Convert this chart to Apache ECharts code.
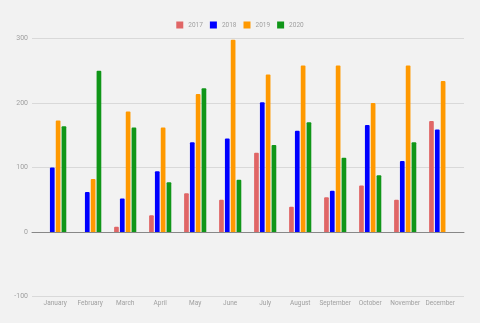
<!DOCTYPE html>
<html>
<head>
<meta charset="utf-8">
<script src="https://cdn.jsdelivr.net/npm/echarts@6/dist/echarts.min.js"></script>
<style>html,body{margin:0;padding:0;background:#f2f2f2;}#c{width:480px;height:323px;}</style>
</head>
<body>
<div id="c"></div>
<script>
const months = ['January','February','March','April','May','June','July','August','September','October','November','December'];
const years = ['2017','2018','2019','2020'];
const v2017 = [null, null, 8, 26, 60, 50, 123, 39, 54, 72, 50, 172];
const v2018 = [100, 62, 52, 94, 139, 145, 201, 157, 64, 166, 110, 159];
const v2019 = [173, 82, 187, 162, 214, 298, 244, 258, 258, 200, 258, 234];
const v2020 = [164, 250, 162, 77, 223, 81, 135, 170, 115, 88, 139, null];
const yTicks = [-100, 0, 100, 200, 300];
const colors = ['#e06666', '#0000ff', '#ff9900', '#109618'];
const seriesValues = [v2017, v2018, v2019, v2020];

const chart = echarts.init(document.getElementById('c'), null, {renderer: 'canvas'});
const font = 'Roboto, sans-serif';
chart.setOption({
  backgroundColor: '#f2f2f2',
  animation: false,
  textStyle: {fontFamily: font},
  legend: {
    top: 16.5, left: 'center',
    itemWidth: 7, itemHeight: 7, itemGap: 7,
    icon: 'rect',
    textStyle: {color: '#a0a0a0', fontSize: 6.5, fontFamily: font},
    data: years
  },
  grid: [
    {left: 32, right: 16, top: 38.5, bottom: 26.5},
    {left: 37.7, right: 22.3, top: 38.5, bottom: 26.5}
  ],
  xAxis: [
    {gridIndex: 0, type: 'value', min: 0, max: 1,
     axisLine: {show: true, onZero: true, lineStyle: {color: '#888', width: 1}},
     axisTick: {show: false}, axisLabel: {show: false}, splitLine: {show: false}},
    {gridIndex: 1, type: 'category', data: months,
     axisLine: {show: false}, axisTick: {show: false},
     axisLabel: {color: '#a0a0a0', fontSize: 6.5, margin: 3.5, fontFamily: font, interval: 0}}
  ],
  yAxis: [
    {gridIndex: 0, type: 'value', min: yTicks[0], max: yTicks[yTicks.length-1], interval: 100,
     axisLine: {show: false}, axisTick: {show: false},
     axisLabel: {color: '#a0a0a0', fontSize: 7, margin: 4, fontFamily: font},
     splitLine: {lineStyle: {color: '#d9d9d9', width: 1}}},
    {gridIndex: 1, type: 'value', min: yTicks[0], max: yTicks[yTicks.length-1], interval: 100,
     show: false, splitLine: {show: false}}
  ],
  series: years.map((y, i) => ({
    name: y, type: 'bar', xAxisIndex: 1, yAxisIndex: 1,
    data: seriesValues[i],
    barWidth: 4.7, barGap: '24%',
    itemStyle: {color: colors[i], borderRadius: [1, 1, 0, 0]}
  }))
});
</script>
</body>
</html>
